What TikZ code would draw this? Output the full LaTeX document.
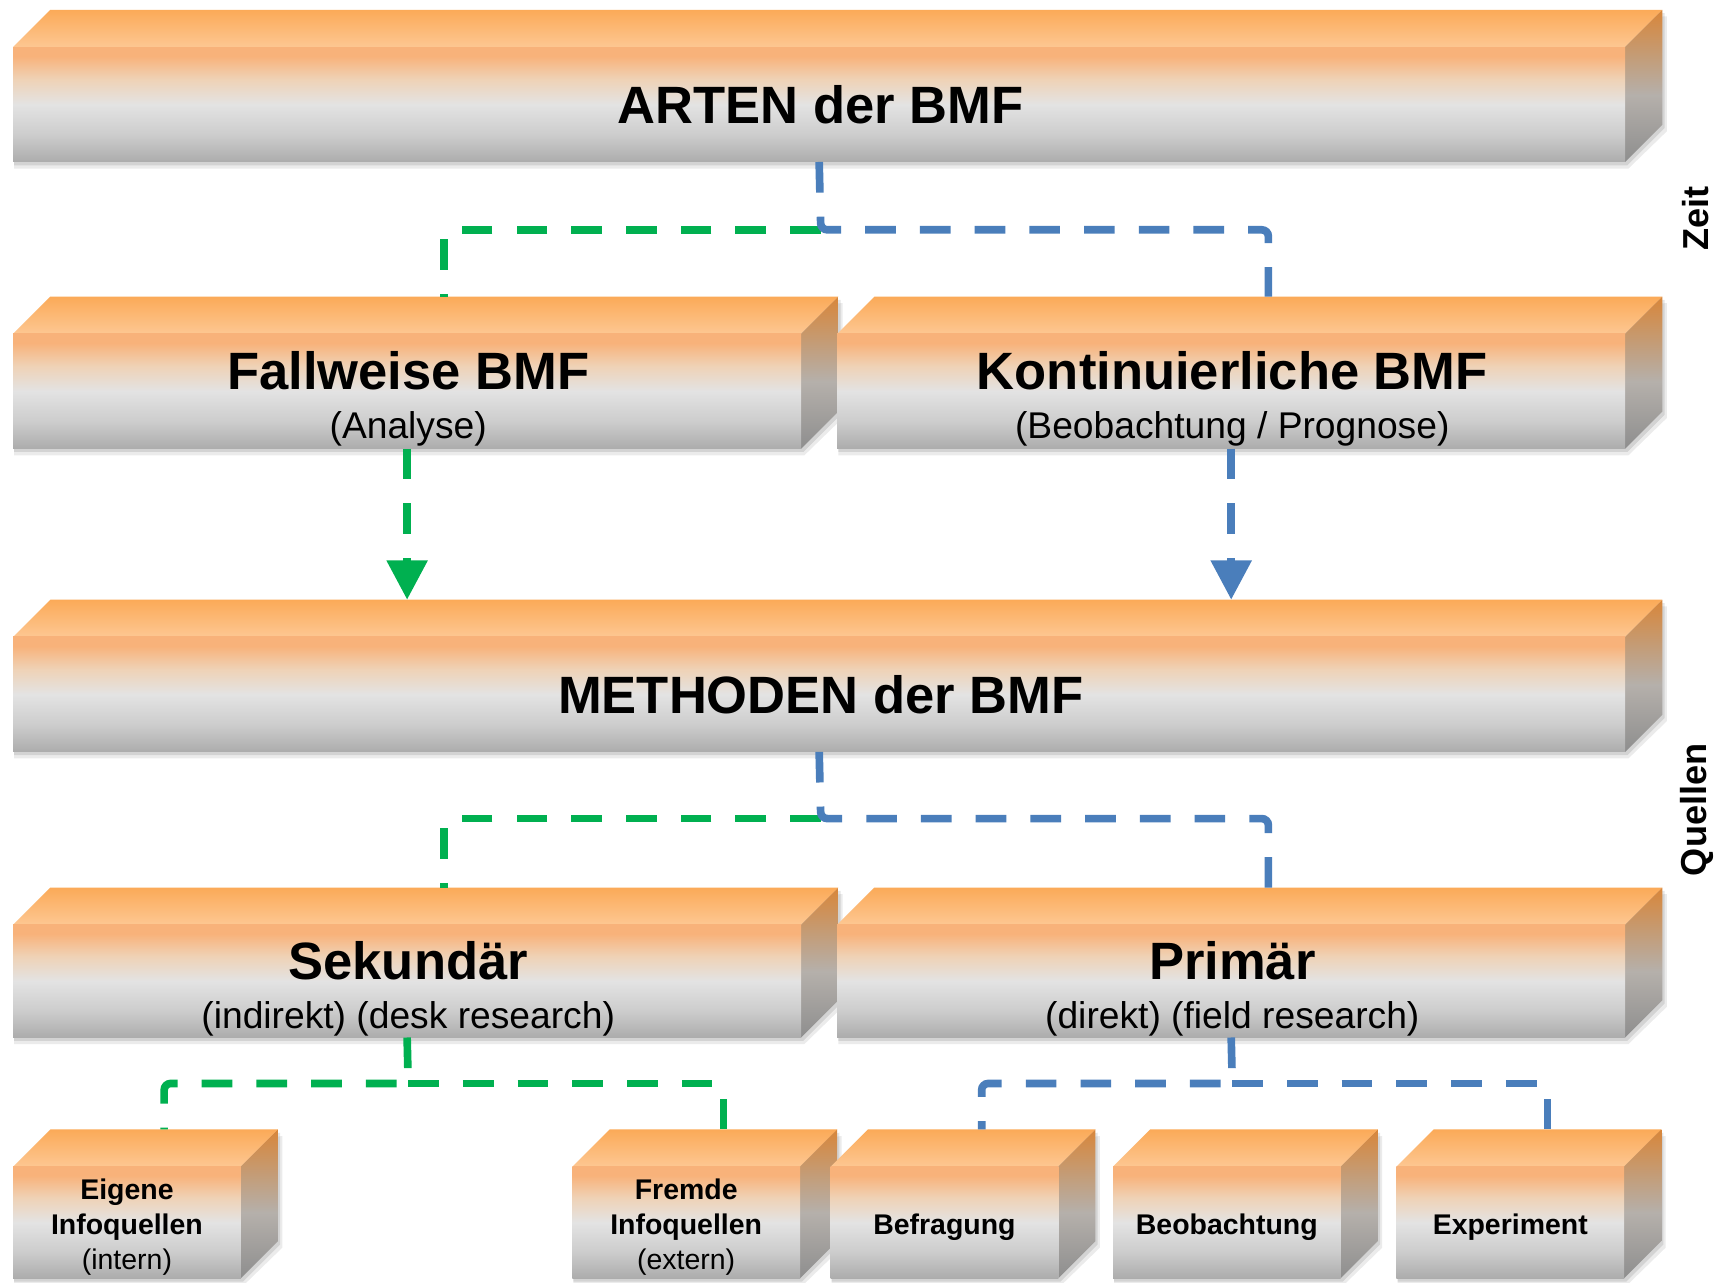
\documentclass[tikz,border=0pt]{standalone}
\usepackage{fontspec}
\setmainfont{Liberation Sans}
\usetikzlibrary{arrows.meta,calc,fit}

% connector colours
\definecolor{linkgreen}{HTML}{00B050}
\definecolor{linkblue}{HTML}{4A7EBB}
% cuboid face colours
\definecolor{topback}{HTML}{FBAA58}
\definecolor{topfront}{HTML}{FDC792}
\definecolor{frtop}{HTML}{F8B27A}
\definecolor{frpeach}{HTML}{EFD2B6}
\definecolor{frmid}{HTML}{E3E3E3}
\definecolor{frlow}{HTML}{CDCDCD}
\definecolor{frbot}{HTML}{ACACAC}
\definecolor{sdtop}{HTML}{D8863A}
\definecolor{sdtan}{HTML}{C49C76}
\definecolor{sdmid}{HTML}{B5B0AB}
\definecolor{sdbot}{HTML}{8E8E8E}

\pgfdeclareverticalshading{cubetop}{100bp}{color(0bp)=(topfront); color(25bp)=(topfront); color(75bp)=(topback); color(100bp)=(topback)}
\pgfdeclareverticalshading{cubefront}{100bp}{color(0bp)=(frbot); color(25bp)=(frbot); color(37bp)=(frlow); color(50bp)=(frmid); color(61bp)=(frpeach); color(71bp)=(frtop); color(75bp)=(frtop); color(100bp)=(frtop)}
\pgfdeclareverticalshading{cubeside}{100bp}{color(0bp)=(sdbot); color(25bp)=(sdbot); color(47bp)=(sdmid); color(60bp)=(sdtan); color(75bp)=(sdtop); color(100bp)=(sdtop)}

% #1 name, #2 left, #3 front top, #4 right, #5 bottom, #6 depth
\newcommand\cuboid[6]{%
  \fill[black,opacity=.08] (#2+1,#3+6) -- (#4+#6+4,#3-#6+6) -- (#4+#6+4,#5-#6+6) -- (#4+3,#5+6) -- (#2+1,#5+6) -- cycle;
  \fill[black,opacity=.10] (#2+1,#3+3) -- (#4+#6+2,#3-#6+3) -- (#4+#6+2,#5-#6+3) -- (#4+2,#5+3) -- (#2+1,#5+3) -- cycle;
  \shade[shading=cubetop] (#2,#3) -- (#2+#6,#3-#6) -- (#4+#6,#3-#6) -- (#4,#3) -- cycle;
  \shade[shading=cubeside] (#4,#3) -- (#4+#6,#3-#6) -- (#4+#6,#5-#6) -- (#4,#5) -- cycle;
  \node[shade,shading=cubefront,inner sep=0pt,outer sep=0pt,fit={(#2,#3) (#4,#5)}] (#1) {};
  \coordinate (#1-top) at ($(#1.north)+(0,-#6)$);
  \coordinate (#1-link) at ($(#1.north)+(#6,-#6)$);
}

\tikzset{
  bigtitle/.style={font=\fontsize{24}{28}\selectfont\bfseries, anchor=base, inner sep=0pt},
  subtitle/.style={font=\fontsize{17}{20}\selectfont, anchor=base, inner sep=0pt},
  smallbold/.style={font=\fontsize{13}{15}\selectfont\bfseries, anchor=base, inner sep=0pt},
  smallreg/.style={font=\fontsize{13}{15}\selectfont, anchor=base, inner sep=0pt},
  sidelabel/.style={font=\fontsize{16.5}{20}\selectfont\bfseries, rotate=90, inner sep=0pt},
  link/.style={line width=3.5pt, dash pattern=on 14pt off 11pt, rounded corners=3pt},
  greenlink/.style={link, draw=linkgreen},
  bluelink/.style={link, draw=linkblue},
  tipgreen/.style={-{Triangle[width=18pt,length=18pt,fill=linkgreen]}},
  tipblue/.style={-{Triangle[width=18pt,length=18pt,fill=linkblue]}},
}

\begin{document}
\begin{tikzpicture}[x=0.5pt,y=-0.5pt]
\useasboundingbox (0,0) rectangle (1568,1172);
\fill[white] (0,0) rectangle (1568,1172);

% level 1
\cuboid{arten}{12}{43}{1485}{148}{34}
\node[bigtitle] (artenT) at (750,113) {ARTEN der BMF};

% level 2
\cuboid{fall}{12}{305}{732}{410}{34}
\cuboid{kont}{765}{305}{1485}{410}{34}
\node[bigtitle] (fallT) at (373,356) {Fallweise BMF};
\node[subtitle] (fallS) at (373,401) {(Analyse)};
\node[bigtitle] (kontT) at (1126,356) {Kontinuierliche BMF};
\node[subtitle] (kontS) at (1126,401) {(Beobachtung / Prognose)};

% level 3
\cuboid{meth}{12}{582}{1485}{687}{34}
\node[bigtitle] (methT) at (750,652) {METHODEN der BMF};

% level 4
\cuboid{sek}{12}{845}{732}{948}{34}
\cuboid{prim}{765}{845}{1485}{948}{34}
\node[bigtitle] (sekT) at (373,895) {Sekundär};
\node[subtitle] (sekS) at (373,940) {(indirekt) (desk research)};
\node[bigtitle] (primT) at (1126,895) {Primär};
\node[subtitle] (primS) at (1126,940) {(direkt) (field research)};

% level 5
\cuboid{eig}{12}{1066}{220}{1168}{34}
\cuboid{fre}{523}{1066}{731}{1168}{34}
\cuboid{bef}{759}{1066}{967}{1168}{34}
\cuboid{beo}{1017}{1066}{1225}{1168}{34}
\cuboid{exp}{1276}{1066}{1484}{1168}{34}
\node[smallbold] (eigA) at (116,1096) {Eigene};
\node[smallbold] (eigB) at (116,1128) {Infoquellen};
\node[smallreg]  (eigC) at (116,1160) {(intern)};
\node[smallbold] (freA) at (627,1096) {Fremde};
\node[smallbold] (freB) at (627,1128) {Infoquellen};
\node[smallreg]  (freC) at (627,1160) {(extern)};
\node[smallbold] (befT) at (863,1128) {Befragung};
\node[smallbold] (beoT) at (1121,1128) {Beobachtung};
\node[smallbold] (expT) at (1380,1128) {Experiment};

% side labels
\node[sidelabel] (zeit) at (1549,200) {Zeit};
\node[sidelabel] (quellen) at (1551,740) {Quellen};

% branching connectors
\coordinate (j1) at (750,210);
\coordinate (j2) at (750,748);
\coordinate (j3) at (373,990);
\coordinate (j4) at (1126,990);

\draw[greenlink] (j1) -| (fall-link);
\draw[bluelink] (arten.south) -- (j1) -| (kont-link);

\draw[greenlink] (j2) -| (sek-link);
\draw[bluelink] (meth.south) -- (j2) -| (prim-link);

\draw[greenlink] (sek.south) -- (j3) -| (eig-link);
\draw[greenlink] (j3) -| (fre-link);

\draw[bluelink] (prim.south) -- (j4) -| (bef-link);
\draw[bluelink] (j4) -| (exp-link);

% arrows into the methods level
\draw[greenlink,tipgreen] (fall.south) -- (fall.south |- meth-top);
\draw[bluelink,tipblue] (kont.south) -- (kont.south |- meth-top);
\end{tikzpicture}
\end{document}
